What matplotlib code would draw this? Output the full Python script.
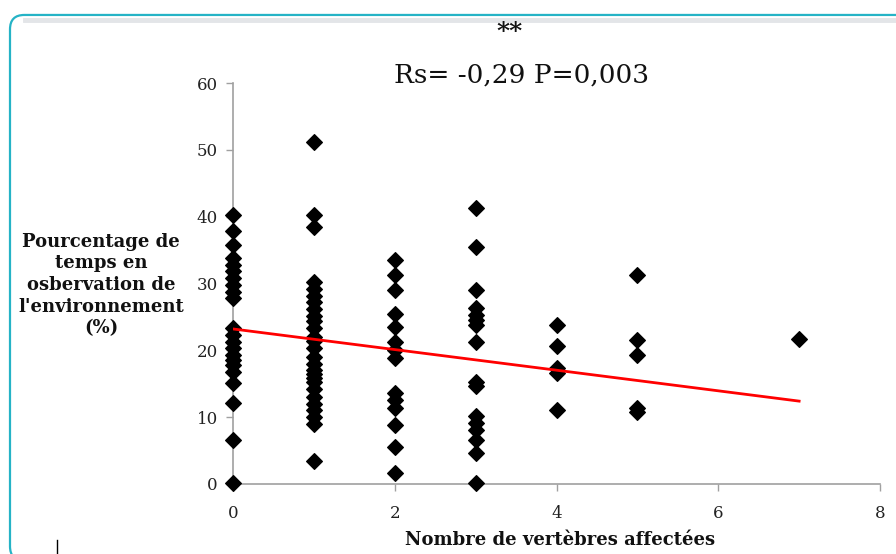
import matplotlib
matplotlib.use("Agg")
import matplotlib.pyplot as plt
from matplotlib.patches import FancyBboxPatch
from matplotlib.lines import Line2D

# ---- data ----
x0 = [40.3, 37.8, 35.8, 33.8, 32.8, 31.8, 30.8, 29.8, 28.8, 27.8,
      23.3, 22.3, 21.3, 20.3, 19.3, 18.6, 17.8, 16.8, 15.1, 12.1, 6.6, 0.1]
x1 = [51.2, 40.3, 38.5, 30.2, 29.2, 28.2, 27.2, 26.2, 25.2, 24.4, 23.4,
      22.0, 21.4, 20.4, 19.0, 18.0, 17.0, 16.4, 15.8, 15.2, 14.2,
      13.0, 12.0, 11.0, 10.0, 9.0, 3.4]
x2 = [33.5, 31.3, 29.0, 25.5, 23.5, 21.3, 20.1, 18.8, 13.6, 12.6, 11.3,
      8.8, 5.6, 1.6]
x3 = [41.3, 35.5, 29.0, 26.3, 25.3, 24.6, 23.8, 21.3, 15.3, 14.6,
      10.1, 9.1, 8.1, 6.6, 4.6, 0.1]
x4 = [23.8, 20.6, 17.3, 16.6, 11.1]
x5 = [31.3, 21.6, 19.3, 11.3, 10.8]
x7 = [21.7]
groups = [0, 1, 2, 3, 4, 5, 7]
group_values = [x0, x1, x2, x3, x4, x5, x7]

trend_x = [0, 7]
trend_y = [23.2, 12.4]

x_ticks = [0, 2, 4, 6, 8]
y_ticks = [0, 10, 20, 30, 40, 50, 60]

title_stars = "**"
title_stats = "Rs= -0,29 P=0,003"
x_label = "Nombre de vertèbres affectées"
y_label = "Pourcentage de\ntemps en\nosbervation de\nl'environnement\n(%)"

# ---- figure ----
plt.rcParams['font.family'] = ['DejaVu Serif']
fig = plt.figure(figsize=(8.96, 5.54), dpi=100)

# rounded frame
frame = FancyBboxPatch((10 / 896, -0.012), 1.2, 0.973 + 0.012,
                       boxstyle="round,pad=0,rounding_size=0.016",
                       transform=fig.transFigure, facecolor='none',
                       edgecolor='#25B3C6', linewidth=1.6, zorder=-1,
                       mutation_aspect=896 / 554)
fig.patches.append(frame)
fig.add_artist(Line2D([0.028, 1.0], [1 - 19.5 / 554, 1 - 19.5 / 554],
                      transform=fig.transFigure, color='#E3E5E8',
                      linewidth=3.5, zorder=-1))
fig.add_artist(Line2D([57 / 896, 57 / 896], [0, 14 / 554],
                      transform=fig.transFigure, color='black',
                      linewidth=1, zorder=1))

ax = fig.add_axes([233 / 896, 1 - 484 / 554, (880 - 233) / 896, (484 - 83) / 554])
ax.patch.set_alpha(0)
ax.set_zorder(2)

for gx, vals in zip(groups, group_values):
    ax.plot([gx] * len(vals), vals, linestyle='none', marker='D',
            markersize=8, color='black', markeredgewidth=0.8, zorder=3,
            clip_on=False)

ax.plot(trend_x, trend_y, color='#FF0000', linewidth=2, zorder=4)

ax.set_xlim(0, 8)
ax.set_ylim(0, 60)
ax.set_xticks(x_ticks)
ax.set_yticks(y_ticks)
ax.tick_params(axis='both', colors='#A0A0A0', labelcolor='#222222',
               labelsize=12, length=5, width=1, direction='out')
ax.tick_params(axis='x', pad=10)
ax.tick_params(axis='y', pad=6)
for s in ['top', 'right']:
    ax.spines[s].set_visible(False)
for s in ['left', 'bottom']:
    ax.spines[s].set_color('#A0A0A0')
    ax.spines[s].set_linewidth(1.2)

fig.text(510 / 896, 1 - 32 / 554, title_stars, ha='center', va='center',
         fontsize=18, fontweight='bold', color='#111111')
fig.text(522 / 896, 1 - 75 / 554, title_stats, ha='center', va='center',
         fontsize=19, color='#111111')

fig.text(101 / 896, 1 - 285 / 554, y_label, ha='center', va='center',
         fontsize=13, fontweight='bold', color='#111111', linespacing=1.25)
fig.text(560 / 896, 1 - 540 / 554, x_label, ha='center', va='center',
         fontsize=13, fontweight='bold', color='#111111')

fig.savefig('out.png', dpi=100)
